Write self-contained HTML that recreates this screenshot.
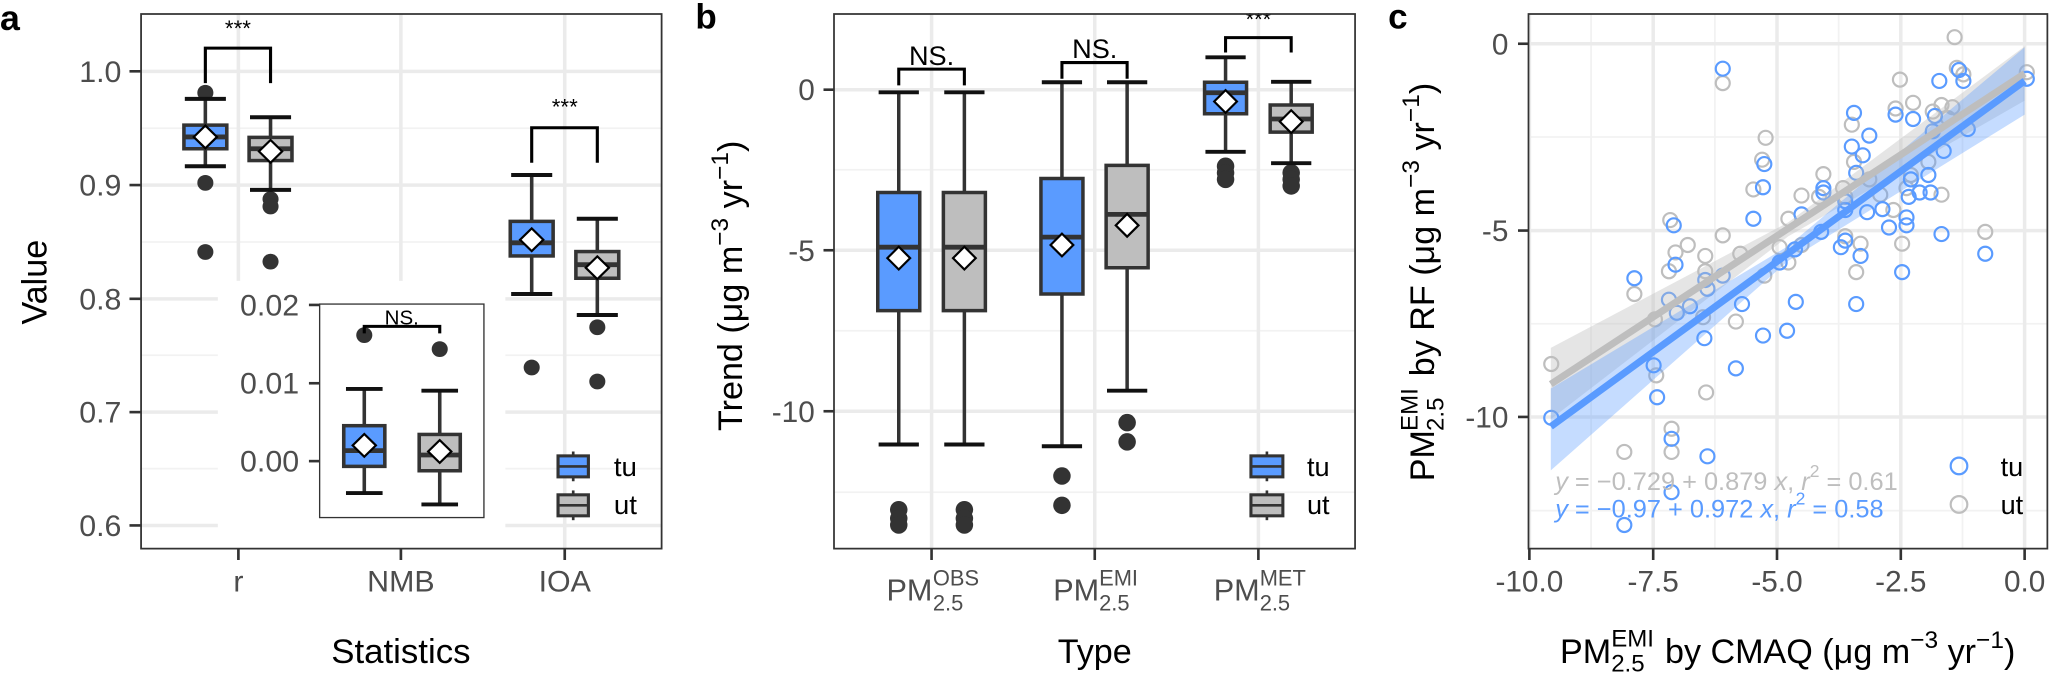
<!DOCTYPE html>
<html><head><meta charset="utf-8"><style>
html,body{margin:0;padding:0;background:#fff;}
body{width:2050px;height:686px;position:relative;overflow:hidden;font-family:"Liberation Sans",Arial,sans-serif;}
svg{position:absolute;top:0;}
text{font-family:"Liberation Sans",Arial,sans-serif;}
.tl{fill:#4d4d4d;font-size:68px;}
.ti{fill:#000;font-size:78px;}
.gmaj{stroke:#ebebeb;stroke-width:8;}
.gmin{stroke:#f2f2f2;stroke-width:4;}
.tk{stroke:#333;stroke-width:6;}
</style></head><body>

<!-- Panel a -->
<svg id="pa" style="left:0;width:700px;height:686px" viewBox="0 0 1568 1568" preserveAspectRatio="none">
<g>
<line class="gmin" x1="316" x2="1482" y1="293" y2="293"/><line class="gmin" x1="316" x2="1482" y1="553" y2="553"/><line class="gmin" x1="316" x2="1482" y1="812" y2="812"/><line class="gmin" x1="316" x2="1482" y1="1071" y2="1071"/>
<line class="gmaj" x1="316" x2="1482" y1="163" y2="163"/><line class="gmaj" x1="316" x2="1482" y1="423" y2="423"/><line class="gmaj" x1="316" x2="1482" y1="683" y2="683"/><line class="gmaj" x1="316" x2="1482" y1="942" y2="942"/><line class="gmaj" x1="316" x2="1482" y1="1201" y2="1201"/>
<line class="gmaj" x1="534" x2="534" y1="32" y2="1254"/><line class="gmaj" x1="898" x2="898" y1="32" y2="1254"/><line class="gmaj" x1="1265" x2="1265" y1="32" y2="1254"/>
<rect x="488" y="642" width="644" height="612" fill="#fff"/>
</g>
<g id="abox"></g>
<path d="M460 190V110H606V190" fill="none" stroke="#000" stroke-width="7"/>
<text x="533" y="82" text-anchor="middle" font-size="50">***</text>
<path d="M1191 372V292H1338V372" fill="none" stroke="#000" stroke-width="7"/>
<text x="1265" y="262" text-anchor="middle" font-size="50">***</text>
<rect x="316" y="32" width="1166" height="1222" fill="none" stroke="#333" stroke-width="4"/>
<line class="tk" x1="290" x2="316" y1="163" y2="163"/><line class="tk" x1="290" x2="316" y1="423" y2="423"/><line class="tk" x1="290" x2="316" y1="683" y2="683"/><line class="tk" x1="290" x2="316" y1="942" y2="942"/><line class="tk" x1="290" x2="316" y1="1201" y2="1201"/>
<line class="tk" x1="534" x2="534" y1="1254" y2="1280"/><line class="tk" x1="898" x2="898" y1="1254" y2="1280"/><line class="tk" x1="1265" x2="1265" y1="1254" y2="1280"/>
<text class="tl" x="272" y="187" text-anchor="end">1.0</text>
<text class="tl" x="272" y="447" text-anchor="end">0.9</text>
<text class="tl" x="272" y="707" text-anchor="end">0.8</text>
<text class="tl" x="272" y="966" text-anchor="end">0.7</text>
<text class="tl" x="272" y="1225" text-anchor="end">0.6</text>
<text class="tl" x="534" y="1352" text-anchor="middle">r</text>
<text class="tl" x="898" y="1352" text-anchor="middle">NMB</text>
<text class="tl" x="1265" y="1352" text-anchor="middle">IOA</text>
<text class="ti" x="898" y="1515" text-anchor="middle">Statistics</text>
<text class="ti" transform="translate(104,645) rotate(-90)" text-anchor="middle">Value</text>
<text x="0" y="68" font-size="80" font-weight="bold">a</text>
<!-- inset -->
<rect x="716" y="695" width="368" height="488" fill="#fff" stroke="#333" stroke-width="3"/>
<line class="tk" x1="692" x2="716" y1="697" y2="697"/><line class="tk" x1="692" x2="716" y1="876" y2="876"/><line class="tk" x1="692" x2="716" y1="1054" y2="1054"/>
<text class="tl" x="670" y="721" text-anchor="end">0.02</text>
<text class="tl" x="670" y="900" text-anchor="end">0.01</text>
<text class="tl" x="670" y="1078" text-anchor="end">0.00</text>
<g id="ibox"></g>
<path d="M816 762V746H985V762" fill="none" stroke="#000" stroke-width="7"/>
<text x="900" y="742" text-anchor="middle" font-size="46">NS.</text>
<g id="aleg"></g>
<text x="1375" y="1088" font-size="62">tu</text>
<text x="1375" y="1175" font-size="62">ut</text>
</svg>

<!-- Panel b -->
<svg id="pb" style="left:680px;width:686px;height:686px" viewBox="0 0 1568 1568" preserveAspectRatio="none">
<line class="gmin" x1="352" x2="1543" y1="388" y2="388"/><line class="gmin" x1="352" x2="1543" y1="756" y2="756"/><line class="gmin" x1="352" x2="1543" y1="1125" y2="1125"/>
<line class="gmaj" x1="352" x2="1543" y1="205" y2="205"/><line class="gmaj" x1="352" x2="1543" y1="572" y2="572"/><line class="gmaj" x1="352" x2="1543" y1="940" y2="940"/>
<line class="gmaj" x1="575" x2="575" y1="32" y2="1254"/><line class="gmaj" x1="948" x2="948" y1="32" y2="1254"/><line class="gmaj" x1="1322" x2="1322" y1="32" y2="1254"/>
<g id="bbox"></g>
<path d="M500 195V158H650V195" fill="none" stroke="#000" stroke-width="7"/>
<text x="575" y="148" text-anchor="middle" font-size="62">NS.</text>
<path d="M873 180V143H1022V180" fill="none" stroke="#000" stroke-width="7"/>
<text x="948" y="133" text-anchor="middle" font-size="62">NS.</text>
<path d="M1247 120V86H1397V120" fill="none" stroke="#000" stroke-width="7"/>
<text x="1322" y="62" text-anchor="middle" font-size="50">***</text>
<rect x="0" y="0" width="1568" height="30" fill="#fff"/>
<rect x="352" y="32" width="1191" height="1222" fill="none" stroke="#333" stroke-width="4"/>
<line class="tk" x1="328" x2="352" y1="205" y2="205"/><line class="tk" x1="328" x2="352" y1="572" y2="572"/><line class="tk" x1="328" x2="352" y1="940" y2="940"/>
<line class="tk" x1="575" x2="575" y1="1254" y2="1280"/><line class="tk" x1="948" x2="948" y1="1254" y2="1280"/><line class="tk" x1="1322" x2="1322" y1="1254" y2="1280"/>
<text class="tl" x="308" y="229" text-anchor="end">0</text>
<text class="tl" x="308" y="596" text-anchor="end">-5</text>
<text class="tl" x="308" y="964" text-anchor="end">-10</text>
<g class="tl">
<text x="472" y="1372" font-size="70">PM</text><text x="578" y="1338" font-size="50">OBS</text><text x="578" y="1395" font-size="50">2.5</text>
<text x="853" y="1372" font-size="70">PM</text><text x="958" y="1338" font-size="50">EMI</text><text x="958" y="1395" font-size="50">2.5</text>
<text x="1220" y="1372" font-size="70">PM</text><text x="1325" y="1338" font-size="50">MET</text><text x="1325" y="1395" font-size="50">2.5</text>
</g>
<text class="ti" x="948" y="1515" text-anchor="middle">Type</text>
<text class="ti" transform="translate(142,985) rotate(-90)">Trend (μg m<tspan dy="-32" font-size="56">−3</tspan><tspan dy="32"> yr</tspan><tspan dy="-32" font-size="56">−1</tspan><tspan dy="32">)</tspan></text>
<text x="35" y="65" font-size="80" font-weight="bold">b</text>
<g id="bleg"></g>
<text x="1433" y="1088" font-size="62">tu</text>
<text x="1433" y="1175" font-size="62">ut</text>
</svg>

<!-- Panel c -->
<svg id="pc" style="left:1364px;width:686px;height:686px" viewBox="0 0 1568 1568" preserveAspectRatio="none">
<line class="gmin" x1="376" x2="1562" y1="313" y2="313"/><line class="gmin" x1="376" x2="1562" y1="740" y2="740"/><line class="gmin" x1="376" x2="1562" y1="1167" y2="1167"/>
<line class="gmin" y1="32" y2="1254" x1="519" x2="519"/><line class="gmin" y1="32" y2="1254" x1="802" x2="802"/><line class="gmin" y1="32" y2="1254" x1="1085" x2="1085"/><line class="gmin" y1="32" y2="1254" x1="1368" x2="1368"/>
<line class="gmaj" x1="376" x2="1562" y1="100" y2="100"/><line class="gmaj" x1="376" x2="1562" y1="527" y2="527"/><line class="gmaj" x1="376" x2="1562" y1="953" y2="953"/>
<line class="gmaj" y1="32" y2="1254" x1="378" x2="378"/><line class="gmaj" y1="32" y2="1254" x1="661" x2="661"/><line class="gmaj" y1="32" y2="1254" x1="944" x2="944"/><line class="gmaj" y1="32" y2="1254" x1="1227" x2="1227"/><line class="gmaj" y1="32" y2="1254" x1="1510" x2="1510"/>
<g id="pts"></g>
<polygon points="427,795 970,508 1510,106 1510,230 970,540 427,958" fill="#bebebe" fill-opacity="0.4"/>
<polygon points="427,888 970,562 1510,108 1510,262 970,596 427,1075" fill="#5a9bff" fill-opacity="0.35"/>
<line x1="427" y1="878" x2="1510" y2="168" stroke="#bebebe" stroke-width="16"/>
<line x1="427" y1="975" x2="1510" y2="185" stroke="#5a9bff" stroke-width="16"/>
<text x="437" y="1120" font-size="58" fill="#bebebe"><tspan font-style="italic">y</tspan> = −0.729 + 0.879 <tspan font-style="italic">x</tspan>, <tspan font-style="italic">r</tspan><tspan dy="-30" font-size="40">2</tspan><tspan dy="30"> = 0.61</tspan></text>
<text x="437" y="1183" font-size="58" fill="#5a9bff"><tspan font-style="italic">y</tspan> = −0.97 + 0.972 <tspan font-style="italic">x</tspan>, <tspan font-style="italic">r</tspan><tspan dy="-30" font-size="40">2</tspan><tspan dy="30"> = 0.58</tspan></text>
<rect x="376" y="32" width="1186" height="1222" fill="none" stroke="#333" stroke-width="4"/>
<line class="tk" x1="352" x2="376" y1="100" y2="100"/><line class="tk" x1="352" x2="376" y1="527" y2="527"/><line class="tk" x1="352" x2="376" y1="953" y2="953"/>
<line class="tk" y1="1254" y2="1280" x1="378" x2="378"/><line class="tk" y1="1254" y2="1280" x1="661" x2="661"/><line class="tk" y1="1254" y2="1280" x1="944" x2="944"/><line class="tk" y1="1254" y2="1280" x1="1227" x2="1227"/><line class="tk" y1="1254" y2="1280" x1="1510" x2="1510"/>
<text class="tl" x="330" y="124" text-anchor="end">0</text>
<text class="tl" x="330" y="551" text-anchor="end">-5</text>
<text class="tl" x="330" y="977" text-anchor="end">-10</text>
<text class="tl" x="378" y="1352" text-anchor="middle">-10.0</text>
<text class="tl" x="661" y="1352" text-anchor="middle">-7.5</text>
<text class="tl" x="944" y="1352" text-anchor="middle">-5.0</text>
<text class="tl" x="1227" y="1352" text-anchor="middle">-2.5</text>
<text class="tl" x="1510" y="1352" text-anchor="middle">0.0</text>
<text class="ti" x="448" y="1515">PM</text><text x="565" y="1478" font-size="55">EMI</text><text x="565" y="1535" font-size="55">2.5</text>
<text class="ti" x="688" y="1515">by CMAQ (μg m<tspan dy="-34" font-size="56">−3</tspan><tspan dy="34"> yr</tspan><tspan dy="-34" font-size="56">−1</tspan><tspan dy="34">)</tspan></text>
<g transform="translate(160,1100) rotate(-90)">
<text class="ti" x="0" y="0">PM</text><text x="115" y="-38" font-size="55">EMI</text><text x="115" y="22" font-size="55">2.5</text>
<text class="ti" x="240" y="0">by RF (μg m<tspan dy="-34" font-size="56">−3</tspan><tspan dy="34"> yr</tspan><tspan dy="-34" font-size="56">−1</tspan><tspan dy="34">)</tspan></text>
</g>
<text x="55" y="65" font-size="80" font-weight="bold">c</text>
<circle cx="1360" cy="1065" r="19" fill="none" stroke="#5a9bff" stroke-width="5"/>
<circle cx="1360" cy="1153" r="19" fill="none" stroke="#bebebe" stroke-width="5"/>
<text x="1455" y="1088" font-size="62">tu</text>
<text x="1455" y="1175" font-size="62">ut</text>
</svg>

<script>
var NS="http://www.w3.org/2000/svg",BL="#5a9bff",GR="#bebebe";
function el(p,t,a){var e=document.createElementNS(NS,t);for(var k in a)e.setAttribute(k,a[k]);p.appendChild(e);return e;}
function box(g,cx,hw,cw,top,q3,med,q1,low,mean,outs,fill,r){
 outs.forEach(function(y){el(g,"circle",{cx:cx,cy:y,r:r,fill:"#333"});});
 el(g,"line",{x1:cx,x2:cx,y1:top,y2:low,stroke:"#333","stroke-width":8});
 el(g,"line",{x1:cx-cw,x2:cx+cw,y1:top,y2:top,stroke:"#111","stroke-width":9});
 el(g,"line",{x1:cx-cw,x2:cx+cw,y1:low,y2:low,stroke:"#111","stroke-width":9});
 el(g,"rect",{x:cx-hw,y:q3,width:2*hw,height:q1-q3,fill:fill,stroke:"#333","stroke-width":8});
 el(g,"line",{x1:cx-hw,x2:cx+hw,y1:med,y2:med,stroke:"#333","stroke-width":11});
 var d=26;el(g,"polygon",{points:[cx,mean-d,cx+d,mean,cx,mean+d,cx-d,mean].join(" "),fill:"#fff",stroke:"#000","stroke-width":5});
}
var g=document.getElementById("abox");
box(g,460,48,46,226,286,313,340,380,313,[212,418,576],BL,18);
box(g,606,48,46,268,314,340,367,434,346,[455,472,598],GR,18);
box(g,1191,48,46,400,506,555,585,672,548,[840],BL,18);
box(g,1338,48,46,500,575,605,636,720,612,[748,872],GR,18);
g=document.getElementById("ibox");
box(g,816,46,41,889,973,1030,1066,1127,1018,[766],BL,18);
box(g,985,46,41,893,993,1040,1076,1153,1032,[798],GR,18);
function leg(g,x,w){[[1066,BL],[1155,GR]].forEach(function(a){
 el(g,"line",{x1:x+w/2,x2:x+w/2,y1:a[0]-34,y2:a[0]+34,stroke:"#333","stroke-width":6});
 el(g,"rect",{x:x,y:a[0]-24,width:w,height:48,fill:a[1],stroke:"#333","stroke-width":7});
 el(g,"line",{x1:x,x2:x+w,y1:a[0],y2:a[0],stroke:"#333","stroke-width":6});});}
leg(document.getElementById("aleg"),1250,68);
leg(document.getElementById("bleg"),1305,73);
g=document.getElementById("bbox");
box(g,500,48,46,211,440,565,710,1016,590,[1165,1185,1200],BL,20);
box(g,650,48,46,211,440,565,710,1016,590,[1165,1185,1200],GR,20);
box(g,873,48,46,188,408,542,672,1020,560,[1088,1155],BL,20);
box(g,1022,48,46,188,378,490,612,893,515,[966,1010],GR,20);
box(g,1247,48,46,131,188,212,260,347,232,[380,395,410],BL,20);
box(g,1397,48,46,187,240,272,302,373,278,[395,410,425],GR,20);
g=document.getElementById("pts");
var gp=[[820,190],[428,832],[595,1033],[703,1033],[703,980],[618,672],[668,858],[782,897],[850,735],[665,730],[697,620],[712,577],[740,560],[780,585],[780,620],[775,725],[820,538],[860,580],[915,630],[700,503],[918,315],[910,365],[890,433],[1050,398],[1000,447],[970,500],[1040,450],[1115,285],[1120,370],[1155,410],[1095,430],[1100,540],[1135,557],[1125,622],[1000,560],[950,565],[970,600],[1210,480],[1180,445],[1230,557],[1320,445],[1255,235],[1225,182],[1215,248],[1300,255],[1320,240],[1345,245],[1350,85],[1355,155],[1370,170],[1515,165],[1420,530],[1250,400],[1290,370],[1240,430],[1100,450],[1335,270]];
var bp=[[820,157],[428,955],[595,1200],[703,1125],[785,1043],[703,1003],[618,636],[670,908],[662,835],[850,842],[912,767],[967,756],[778,773],[864,695],[987,690],[697,685],[715,715],[745,700],[785,660],[780,640],[820,630],[708,515],[712,605],[890,500],[912,428],[915,375],[1120,258],[1115,335],[1140,355],[1155,310],[1125,395],[1050,440],[1000,490],[1045,530],[985,570],[950,600],[1090,565],[1100,550],[1135,585],[1125,695],[1100,480],[1150,485],[1200,520],[1240,515],[1240,497],[1230,622],[1245,450],[1250,410],[1270,440],[1290,400],[1295,440],[1320,535],[1420,580],[1325,345],[1300,300],[1380,295],[1215,262],[1255,272],[1305,265],[1315,185],[1370,185],[1360,160],[1515,180],[1050,430],[1185,478],[1100,460]];
gp.forEach(function(p){el(g,"circle",{cx:p[0],cy:p[1],r:16,fill:"none",stroke:GR,"stroke-width":5});});
bp.forEach(function(p){el(g,"circle",{cx:p[0],cy:p[1],r:16,fill:"none",stroke:BL,"stroke-width":5});});
</script>
</body></html>
